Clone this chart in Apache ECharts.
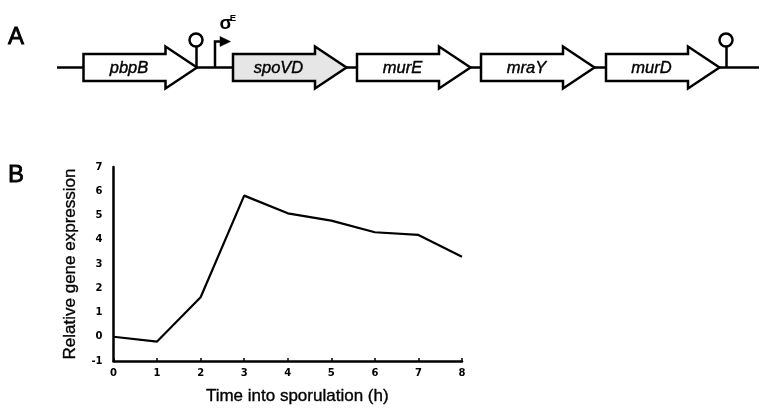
<!DOCTYPE html>
<html>
<head>
<meta charset="utf-8">
<script src="https://cdn.jsdelivr.net/npm/echarts@6/dist/echarts.min.js"></script>
<style>
html,body{margin:0;padding:0;background:#fff;}
#chart{width:759px;height:408px;}
</style>
</head>
<body>
<div id="chart"></div>
<script>
// ---- data ----
var hours = [0, 1, 2, 3, 4, 5, 6, 7, 8];
var expression = [0.0, -0.2, 1.63, 5.82, 5.09, 4.79, 4.31, 4.2, 3.3];
var yTicks = [-1, 0, 1, 2, 3, 4, 5, 6, 7];
var xTicks = [0, 1, 2, 3, 4, 5, 6, 7, 8];
var geneNames = ['pbpB', 'spoVD', 'murE', 'mraY', 'murD'];
var geneHighlighted = [false, true, false, false, false];
var sigmaLabel = 'σ';
var sigmaSup = 'E';
var yTitle = 'Relative gene expression';
var xTitle = 'Time into sporulation (h)';

// ---- gene diagram layout (drawing only) ----
var geneLeft = [83.5, 233, 357, 481, 606];
var bodyLen = 82, headLen = 31.5;
var cy = 67.5, bodyHalf = 13.5, headHalf = 21;
var lw = 2.5;
var FONT = '"Liberation Sans", Arial, sans-serif';
var graphics = [];
graphics.push({type:'line', shape:{x1:57, y1:cy, x2:759, y2:cy}, style:{stroke:'#000', lineWidth:lw}, z:1});
geneNames.forEach(function(name, i){
  var x0 = geneLeft[i], x1 = x0 + bodyLen, x2 = x1 + headLen;
  graphics.push({type:'polygon', shape:{points:[
    [x0, cy-bodyHalf],[x1, cy-bodyHalf],[x1, cy-headHalf],[x2, cy],
    [x1, cy+headHalf],[x1, cy+bodyHalf],[x0, cy+bodyHalf]]},
    style:{fill: geneHighlighted[i] ? '#e6e6e6' : '#fff', stroke:'#000', lineWidth:lw, lineJoin:'miter'}, z:2});
  graphics.push({type:'text', x: x0 + bodyLen/2 + 4.5, y: cy + 1,
    style:{text:name, fill:'#000', font:'italic 16.5px ' + FONT, textAlign:'center', textVerticalAlign:'middle',
      stroke:'#000', lineWidth:0.4}, z:3});
});
// terminators
[196.5, 726.5].forEach(function(tx){
  graphics.push({type:'line', shape:{x1:tx, y1:cy, x2:tx, y2:47}, style:{stroke:'#000', lineWidth:lw}, z:2});
  graphics.push({type:'circle', shape:{cx:tx-0.5, cy:40, r:6.5}, style:{fill:'#fff', stroke:'#000', lineWidth:lw}, z:2});
});
// promoter
graphics.push({type:'polyline', shape:{points:[[215,cy],[215,41.5],[221,41.5]]}, style:{stroke:'#000', lineWidth:lw, fill:null}, z:2});
graphics.push({type:'polygon', shape:{points:[[220,36.5],[230.5,41.5],[220,46.5]]}, style:{fill:'#000', stroke:'#000', lineWidth:0.5}, z:2});
graphics.push({type:'text', x:226, y:24, style:{text:sigmaLabel, fill:'#000', font:'bold 19px ' + FONT, textAlign:'center', textVerticalAlign:'middle'}, z:3});
graphics.push({type:'text', x:233, y:18.5, style:{text:sigmaSup, fill:'#000', font:'bold 9.5px ' + FONT, textAlign:'center', textVerticalAlign:'middle'}, z:3});
// panel letters
graphics.push({type:'text', x:8, y:37, style:{text:'A', fill:'#000', font:'24px ' + FONT, textAlign:'left', textVerticalAlign:'middle', stroke:'#000', lineWidth:0.8}, z:3});
graphics.push({type:'text', x:8, y:175.5, style:{text:'B', fill:'#000', font:'24px ' + FONT, textAlign:'left', textVerticalAlign:'middle', stroke:'#000', lineWidth:0.8}, z:3});

var chart = echarts.init(document.getElementById('chart'), null, {renderer:'canvas'});
var labelFont = {color:'#000', fontFamily:'"DejaVu Sans", sans-serif', fontWeight:'bold', fontSize:10};
var titleFont = {color:'#000', fontSize:17, fontFamily:FONT, textBorderColor:'#000', textBorderWidth:0.35};
chart.setOption({
  animation:false,
  backgroundColor:'#fff',
  graphic: graphics,
  grid:{left:113.5, right:297, top:167, bottom:47, containLabel:false},
  xAxis:{
    type:'value', min:xTicks[0], max:xTicks[xTicks.length-1], interval:1,
    name:xTitle, nameLocation:'middle', nameGap:27,
    nameTextStyle:Object.assign({padding:[0,0,0,19]}, titleFont),
    axisLine:{show:true, onZero:false, lineStyle:{color:'#000', width:2.5}},
    axisTick:{show:true, inside:true, length:3, lineStyle:{color:'#000', width:1.5}},
    axisLabel:Object.assign({margin:7}, labelFont),
    splitLine:{show:false}
  },
  yAxis:{
    type:'value', min:yTicks[0], max:yTicks[yTicks.length-1], interval:1,
    name:yTitle, nameLocation:'middle', nameGap:35, nameRotate:90,
    nameTextStyle:titleFont,
    axisLine:{show:true, onZero:false, lineStyle:{color:'#000', width:2.5}},
    axisTick:{show:false},
    axisLabel:Object.assign({margin:11}, labelFont),
    splitLine:{show:false}
  },
  series:[{
    type:'line',
    data: hours.map(function(h, i){ return [h, expression[i]]; }),
    showSymbol:false, symbol:'none',
    lineStyle:{color:'#000', width:2.2},
    itemStyle:{color:'#000'}
  }]
});
</script>
</body>
</html>
